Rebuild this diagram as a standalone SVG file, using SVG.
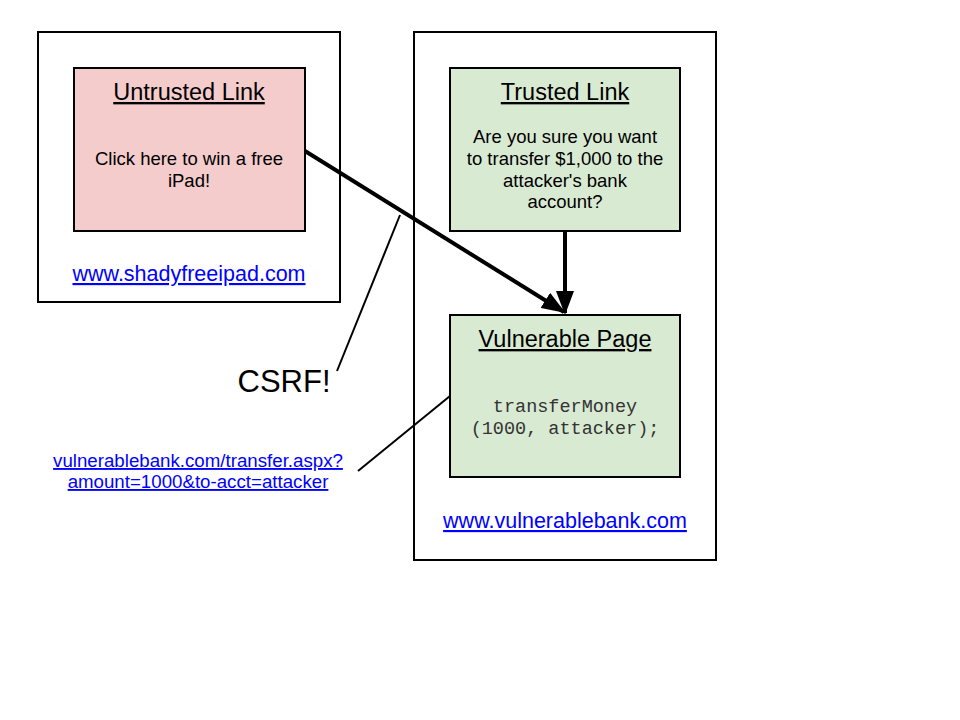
<svg xmlns="http://www.w3.org/2000/svg" width="960" height="720" viewBox="0 0 960 720">
<defs>
<style>
.frame{fill:#fff;stroke:#000;stroke-width:2}
.box{stroke:#000;stroke-width:2}
.t{font-family:"Liberation Sans",Arial,sans-serif;text-anchor:middle;fill:#000}
.title{font-size:23.5px;text-decoration:underline}
.body{font-size:18.5px}
.link{font-family:"Liberation Sans",Arial,sans-serif;text-anchor:middle;fill:#0000ff;text-decoration:underline;font-size:21.5px}
.mono{font-family:"Liberation Mono","Courier New",monospace;text-anchor:middle;fill:#333;font-size:18.5px}
.thick{stroke:#000;stroke-width:4;fill:none}
.thin{stroke:#000;stroke-width:2;fill:none}
</style>
<marker id="ah" viewBox="0 0 12 9" refX="11" refY="4.5" markerWidth="6" markerHeight="4.5" orient="auto" markerUnits="strokeWidth">
<path d="M0,0 L12,4.5 L0,9 z" fill="#000"/>
</marker>
</defs>
<rect width="960" height="720" fill="#fff"/>
<g id="site-shady">
<rect class="frame" x="38" y="32" width="302" height="270"/>
<text class="link" x="189" y="281">www.shadyfreeipad.com</text>
</g>
<g id="site-bank">
<rect class="frame" x="414" y="32" width="302" height="528"/>
<text class="link" x="565" y="528">www.vulnerablebank.com</text>
</g>
<g id="untrusted">
<rect class="box" x="74" y="68" width="231" height="163" fill="#f4cccc"/>
<text class="t title" x="189" y="100">Untrusted Link</text>
<text class="t body" x="189" y="165">Click here to win a free</text>
<text class="t body" x="189" y="187">iPad!</text>
</g>
<g id="trusted">
<rect class="box" x="450" y="68" width="230" height="163" fill="#d9ead3"/>
<text class="t title" x="565" y="100">Trusted Link</text>
<text class="t body" x="565" y="143">Are you sure you want</text>
<text class="t body" x="565" y="165">to transfer $1,000 to the</text>
<text class="t body" x="565" y="187">attacker's bank</text>
<text class="t body" x="565" y="208">account?</text>
</g>
<g id="vulnerable">
<rect class="box" x="450" y="315" width="230" height="162" fill="#d9ead3"/>
<text class="t title" x="565" y="347">Vulnerable Page</text>
<text class="mono" x="565" y="412">transferMoney</text>
<text class="mono" x="565" y="434">(1000, attacker);</text>
</g>
<g id="csrf-label">
<text class="t" x="284" y="392" font-size="31">CSRF!</text>
</g>
<g id="url-label">
<text class="link" x="198" y="467" style="font-size:18.7px">vulnerablebank.com/transfer.aspx?</text>
<text class="link" x="198" y="488" style="font-size:18.7px">amount=1000&amp;to-acct=attacker</text>
</g>
<g id="connectors">
<line class="thick" x1="305" y1="151" x2="564" y2="312" marker-end="url(#ah)"/>
<line class="thick" x1="565" y1="231" x2="565" y2="313" marker-end="url(#ah)"/>
<line class="thin" x1="400" y1="215" x2="337" y2="371"/>
<line class="thin" x1="358" y1="471" x2="450" y2="396"/>
</g>
</svg>
